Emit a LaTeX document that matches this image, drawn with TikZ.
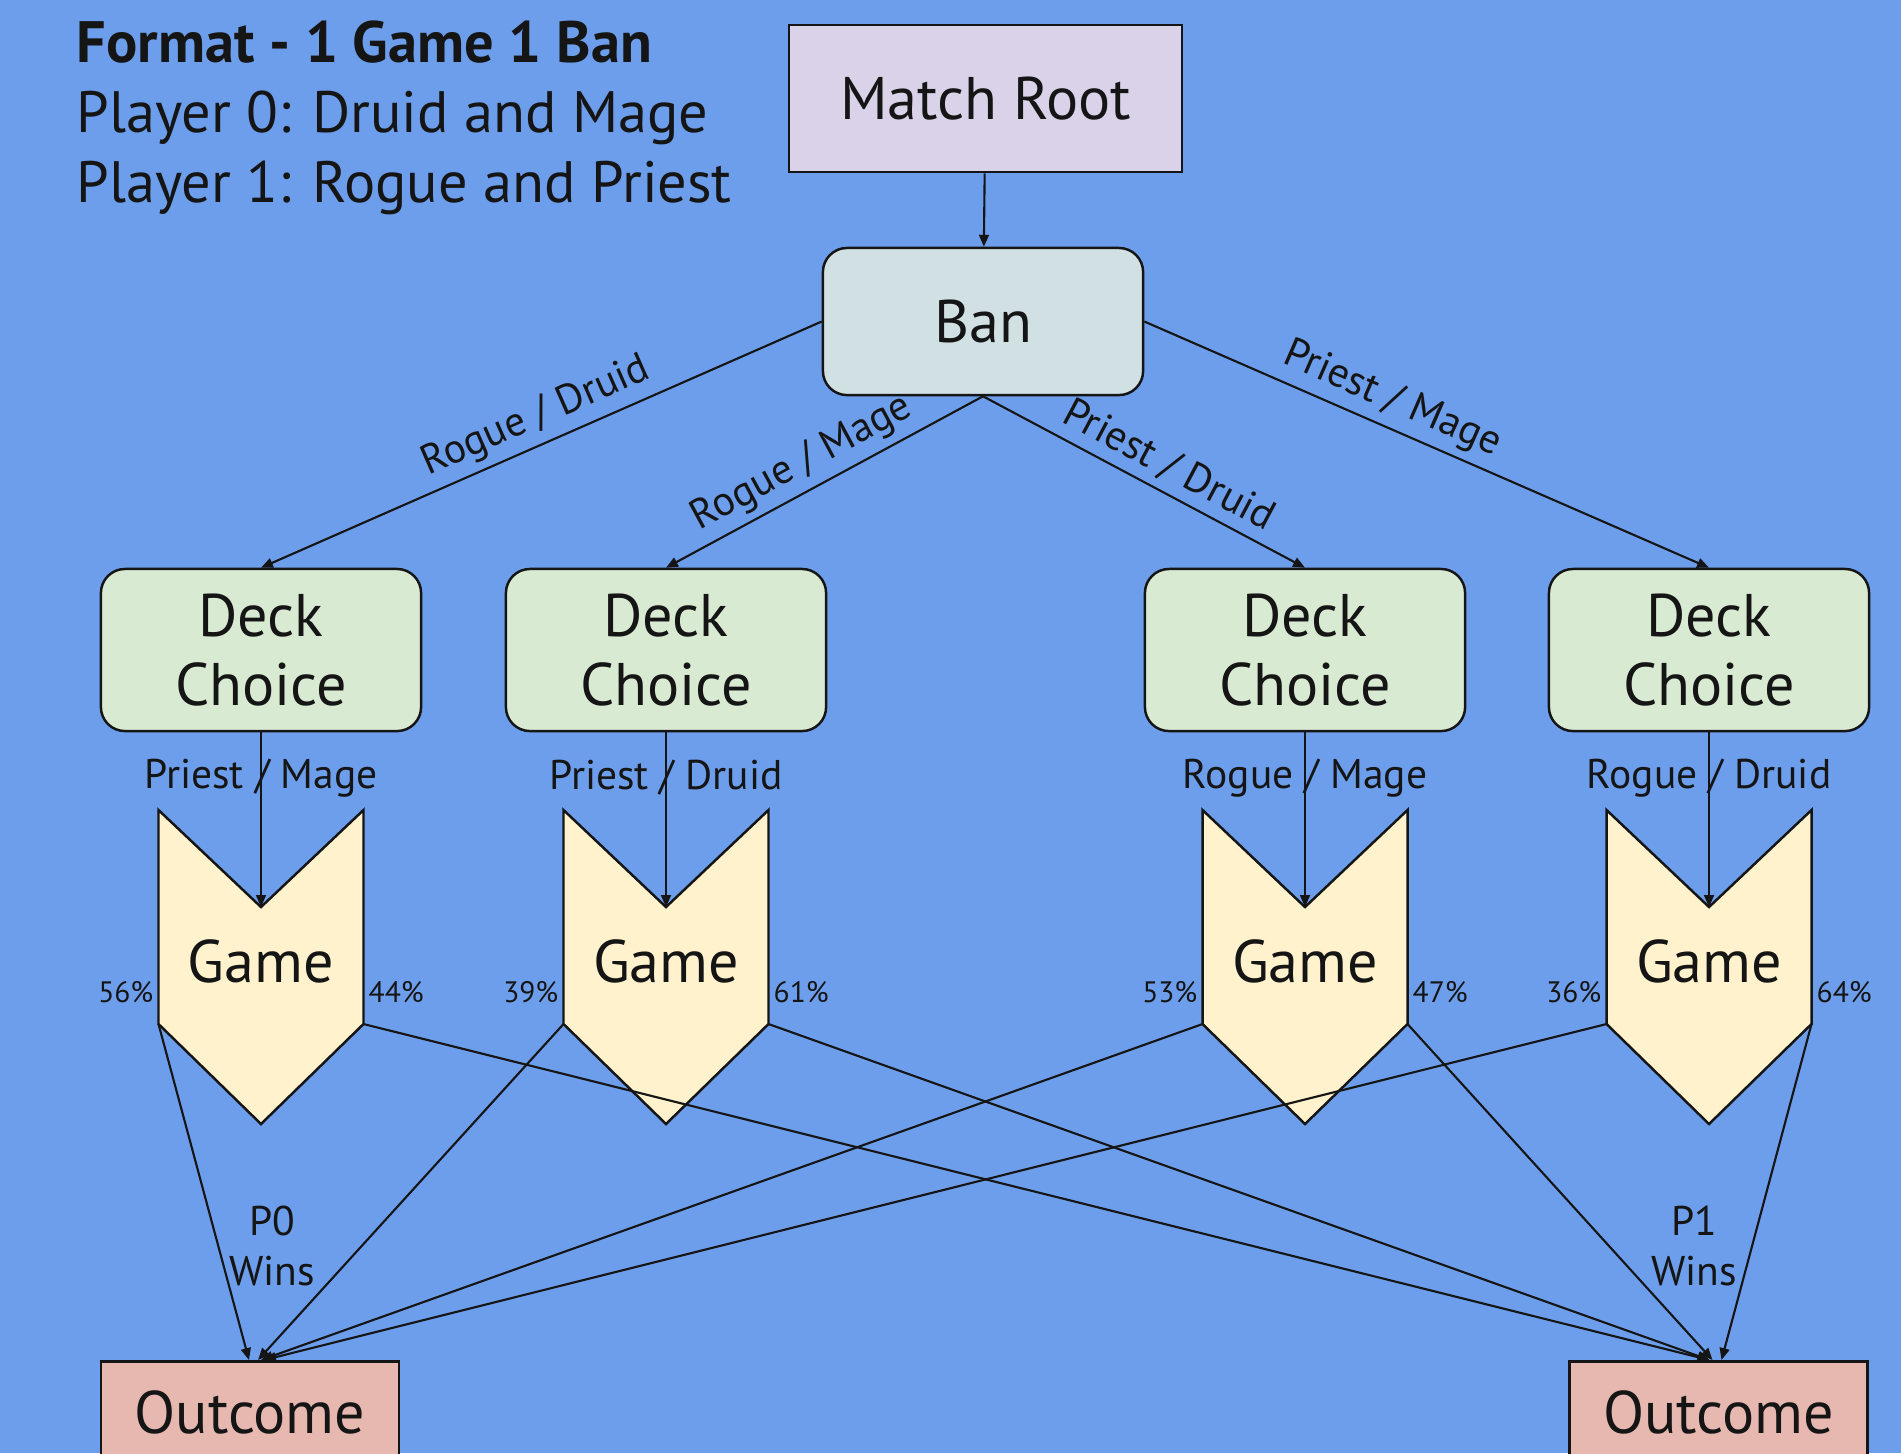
\documentclass[tikz,border=0pt]{standalone}
\usepackage{fontspec}
\setmainfont{PT Sans}
\usetikzlibrary{arrows.meta}

\definecolor{bgblue}{HTML}{6D9EEB}
\definecolor{rootfill}{HTML}{D9D2E9}
\definecolor{banfill}{HTML}{D0E0E3}
\definecolor{deckfill}{HTML}{D9EAD3}
\definecolor{gamefill}{HTML}{FFF2CC}
\definecolor{outfill}{HTML}{E6B8AF}
\definecolor{ink}{HTML}{151515}

\newcommand\mainlbl{\fontsize{17.1}{19.6}\selectfont}
\newcommand\edgelbl{\fontsize{11.8}{14.2}\selectfont}
\newcommand\pctlbl{\fontsize{8.4}{10}\selectfont}
\newcommand\headlbl{\fontsize{16.6}{19.9}\selectfont}

\tikzset{
  box/.style={draw=ink, line width=0.7pt, inner sep=0pt, text=ink, font=\mainlbl, align=center},
  rootbox/.style={box, fill=rootfill, minimum width=3.93cm, minimum height=1.47cm},
  banbox/.style={box, fill=banfill, rounded corners=0.24cm, minimum width=3.2cm, minimum height=1.47cm},
  deckbox/.style={box, fill=deckfill, rounded corners=0.24cm, minimum width=3.2cm, minimum height=1.62cm},
  outbox/.style={box, fill=outfill, minimum width=2.98cm, minimum height=1.2cm, anchor=north},
  gameshape/.style={draw=ink, line width=0.7pt, fill=gamefill, line join=miter},
  gametext/.style={inner sep=0pt, text=ink, font=\mainlbl},
  arr/.style={draw=ink, line width=0.6pt, -{Triangle[length=3.4pt,width=2.8pt]}},
  elbl/.style={inner sep=2pt, text=ink, font=\edgelbl},
  pct/.style={inner sep=0pt, text=ink, font=\pctlbl},
  head/.style={inner sep=0pt, text=ink, font=\headlbl, anchor=base west},
}

\begin{document}
\begin{tikzpicture}[x=0.01cm, y=-0.01cm]
\useasboundingbox (0,0) rectangle (1901,1453);
\clip (0,0) rectangle (1901,1453);
\fill[bgblue] (0,0) rectangle (1901,1453);

% heading
\node[head] (title) at (76,62) {\bfseries Format - 1 Game 1 Ban};
\node[head] (pl0) at (76,132) {Player 0: Druid and Mage};
\node[head] (pl1) at (76,202) {Player 1: Rogue and Priest};

% root and ban
\node[rootbox] (root) at (985.5,98.5) {Match Root};
\node[banbox] (ban) at (983,321.5) {Ban};

% deck choice boxes
\node[deckbox] (d1) at (261,650) {Deck\\Choice};
\node[deckbox] (d2) at (666,650) {Deck\\Choice};
\node[deckbox] (d3) at (1305,650) {Deck\\Choice};
\node[deckbox] (d4) at (1709,650) {Deck\\Choice};

% game chevrons
\foreach \n/\cx/\pl/\pr in {1/261/56/44, 2/666/39/61, 3/1305/53/47, 4/1709/36/64} {
  \draw[gameshape] (\cx-102.5,810) -- (\cx,907) -- (\cx+102.5,810)
    -- (\cx+102.5,1024) -- (\cx,1124) -- (\cx-102.5,1024) -- cycle;
  \coordinate (g\n-top) at (\cx,907);
  \coordinate (g\n-L) at (\cx-102.5,1024);
  \coordinate (g\n-R) at (\cx+102.5,1024);
  \node[gametext] (g\n) at (\cx,961) {Game};
  \node[pct, anchor=east] (g\n-pl) at (\cx-107,992) {\pl\%};
  \node[pct, anchor=west] (g\n-pr) at (\cx+107,992) {\pr\%};
}

% outcome boxes
\node[outbox] (o0) at (250,1360) {\raisebox{0.6ex}{Outcome}};
\node[outbox] (o1) at (1718.5,1360) {\raisebox{0.6ex}{Outcome}};

% connectors from the top
\draw[arr] (root) -- (ban);
\draw[arr] (ban.west) -- node[elbl, sloped, above, pos=0.49] {Rogue / Druid} (d1.north);
\draw[arr] (ban.south) -- node[elbl, sloped, above, pos=0.53] {Rogue / Mage} (d2.north);
\draw[arr] (ban.south) -- node[elbl, sloped, above, pos=0.54] {Priest / Druid} (d3.north);
\draw[arr] (ban.east) -- node[elbl, sloped, above, pos=0.42] {Priest / Mage} (d4.north);

% deck choice to game
\draw[arr] (d1.south) -- node[elbl, pos=0.26] {Priest / Mage} (g1-top);
\draw[arr] (d2.south) -- node[elbl, pos=0.26] {Priest / Druid} (g2-top);
\draw[arr] (d3.south) -- node[elbl, pos=0.26] {Rogue / Mage} (g3-top);
\draw[arr] (d4.south) -- node[elbl, pos=0.26] {Rogue / Druid} (g4-top);

% game results to outcomes
\draw[arr] (g1-L) -- ([xshift=-0.01cm]o0.north);
\draw[arr] (g2-L) -- ([xshift=0.08cm]o0.north);
\draw[arr] (g3-L) -- ([xshift=0.11cm]o0.north);
\draw[arr] (g4-L) -- ([xshift=0.14cm]o0.north);
\draw[arr] (g1-R) -- ([xshift=-0.09cm]o1.north);
\draw[arr] (g2-R) -- ([xshift=-0.09cm]o1.north);
\draw[arr] (g3-R) -- ([xshift=-0.06cm]o1.north);
\draw[arr] (g4-R) -- ([xshift=0.03cm]o1.north);

% winner labels
\node[elbl, align=center] (p0w) at (272,1246) {P0\\Wins};
\node[elbl, align=center] (p1w) at (1694,1246) {P1\\Wins};
\end{tikzpicture}
\end{document}
